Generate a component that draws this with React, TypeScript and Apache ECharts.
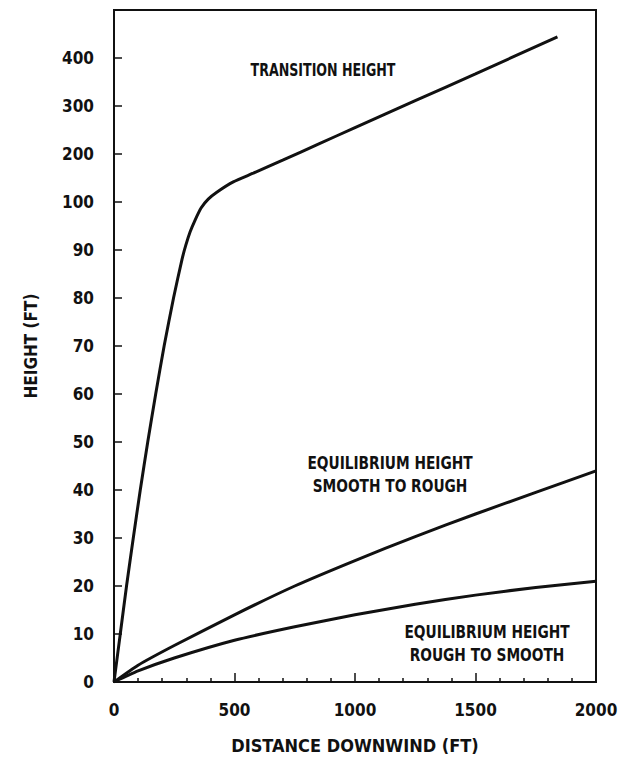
import React, { useEffect, useRef } from "react";
import * as echarts from "echarts";

// Tick labels of the broken height axis (0–100 by 10, then 100–400 by 100)
const yTickLabels = ["0", "10", "20", "30", "40", "50", "60", "70", "80", "90", "100", "200", "300", "400"];

// Transition height
const transDist = [0, 26, 52, 80, 109, 140, 173, 208, 247, 282, 298, 316, 337, 362, 391, 428, 495, 578, 700, 850, 1000, 1250, 1500, 1840];
const transHeight = [0, 10, 20, 30, 40, 50, 60, 70, 80, 88, 91, 93.8, 96.3, 98.8, 106, 121, 142, 160, 187, 221, 255, 311, 367, 444];

// Equilibrium height, smooth to rough
const s2rDist = [0, 100, 250, 500, 750, 1000, 1250, 1500, 1750, 2000];
const s2rHeight = [0, 3.5, 7.6, 14, 20, 25.3, 30.3, 35, 39.5, 44];

// Equilibrium height, rough to smooth
const r2sDist = [0, 100, 250, 500, 750, 1000, 1250, 1500, 1750, 2000];
const r2sHeight = [0, 2.3, 5, 8.7, 11.5, 14, 16.2, 18.1, 19.7, 21];

const toIndex = (h: number) => (h <= 100 ? h / 10 : 10 + (h - 100) / 100);
const pairs = (d: number[], h: number[]) => d.map((x, i) => [x, toIndex(h[i])]);

const FONT = "'DejaVu Sans Condensed', 'DejaVu Sans', sans-serif";
const INK = "#111";

export default function App() {
  const ref = useRef<HTMLDivElement>(null);
  useEffect(() => {
    if (!ref.current) return;
    const chart = echarts.init(ref.current, null, { renderer: "svg" });
    const lineSeries = (data: number[][]) => ({
      type: "line",
      data,
      showSymbol: false,
      smooth: 0.2,
      lineStyle: { color: INK, width: 3 },
      silent: true,
    });
    const annot = (x: number, y: number, text: string, sx: number) => ({
      type: "text",
      x,
      y,
      scaleX: sx,
      style: {
        text,
        fontFamily: FONT,
        fontSize: 18,
        fontWeight: "bold",
        lineHeight: 23,
        fill: INK,
        align: "center",
        verticalAlign: "middle",
      },
    });
    chart.setOption({
      animation: false,
      backgroundColor: "#fff",
      grid: {
        left: 114,
        right: 30,
        top: 10,
        bottom: 82,
        show: true,
        borderColor: INK,
        borderWidth: 2,
      },
      xAxis: {
        type: "value",
        min: 0,
        max: 2000,
        interval: 500,
        name: "DISTANCE DOWNWIND (FT)",
        nameLocation: "middle",
        nameGap: 54,
        nameTextStyle: { fontFamily: FONT, fontSize: 18, fontWeight: "bold", color: INK },
        axisLine: { show: true, lineStyle: { color: INK, width: 2 } },
        axisTick: { show: true, inside: true, length: 9, lineStyle: { color: INK, width: 1.5 } },
        minorTick: { show: true, splitNumber: 5, length: 4, lineStyle: { color: INK, width: 1.5 } },
        splitLine: { show: false },
        axisLabel: {
          fontFamily: FONT,
          fontSize: 17,
          fontWeight: "bold",
          color: INK,
          margin: 19,
          formatter: (v: number) => String(v),
        },
      },
      yAxis: {
        type: "value",
        min: 0,
        max: 14,
        interval: 1,
        name: "HEIGHT (FT)",
        nameLocation: "middle",
        nameRotate: 90,
        nameGap: 75,
        nameTextStyle: { fontFamily: FONT, fontSize: 17, fontWeight: "bold", color: INK },
        axisLine: { show: true, lineStyle: { color: INK, width: 2 } },
        axisTick: { show: true, inside: true, length: 8, lineStyle: { color: INK, width: 1.5 } },
        splitLine: { show: false },
        axisLabel: {
          fontFamily: FONT,
          fontSize: 17,
          fontWeight: "bold",
          color: INK,
          margin: 20,
          formatter: (v: number) => yTickLabels[Math.round(v)] ?? "",
        },
      },
      graphic: [
        annot(323, 70, "TRANSITION HEIGHT", 0.78),
        annot(390, 474, "EQUILIBRIUM HEIGHT\nSMOOTH TO ROUGH", 0.85),
        annot(487, 643, "EQUILIBRIUM HEIGHT\nROUGH TO SMOOTH", 0.85),
      ],
      series: [
        lineSeries(pairs(transDist, transHeight)),
        lineSeries(pairs(s2rDist, s2rHeight)),
        lineSeries(pairs(r2sDist, r2sHeight)),
      ],
    });
    return () => chart.dispose();
  }, []);
  return (
    <div
      ref={ref}
      style={{ position: "fixed", left: 0, top: 0, width: 626, height: 764, background: "#fff" }}
    />
  );
}
